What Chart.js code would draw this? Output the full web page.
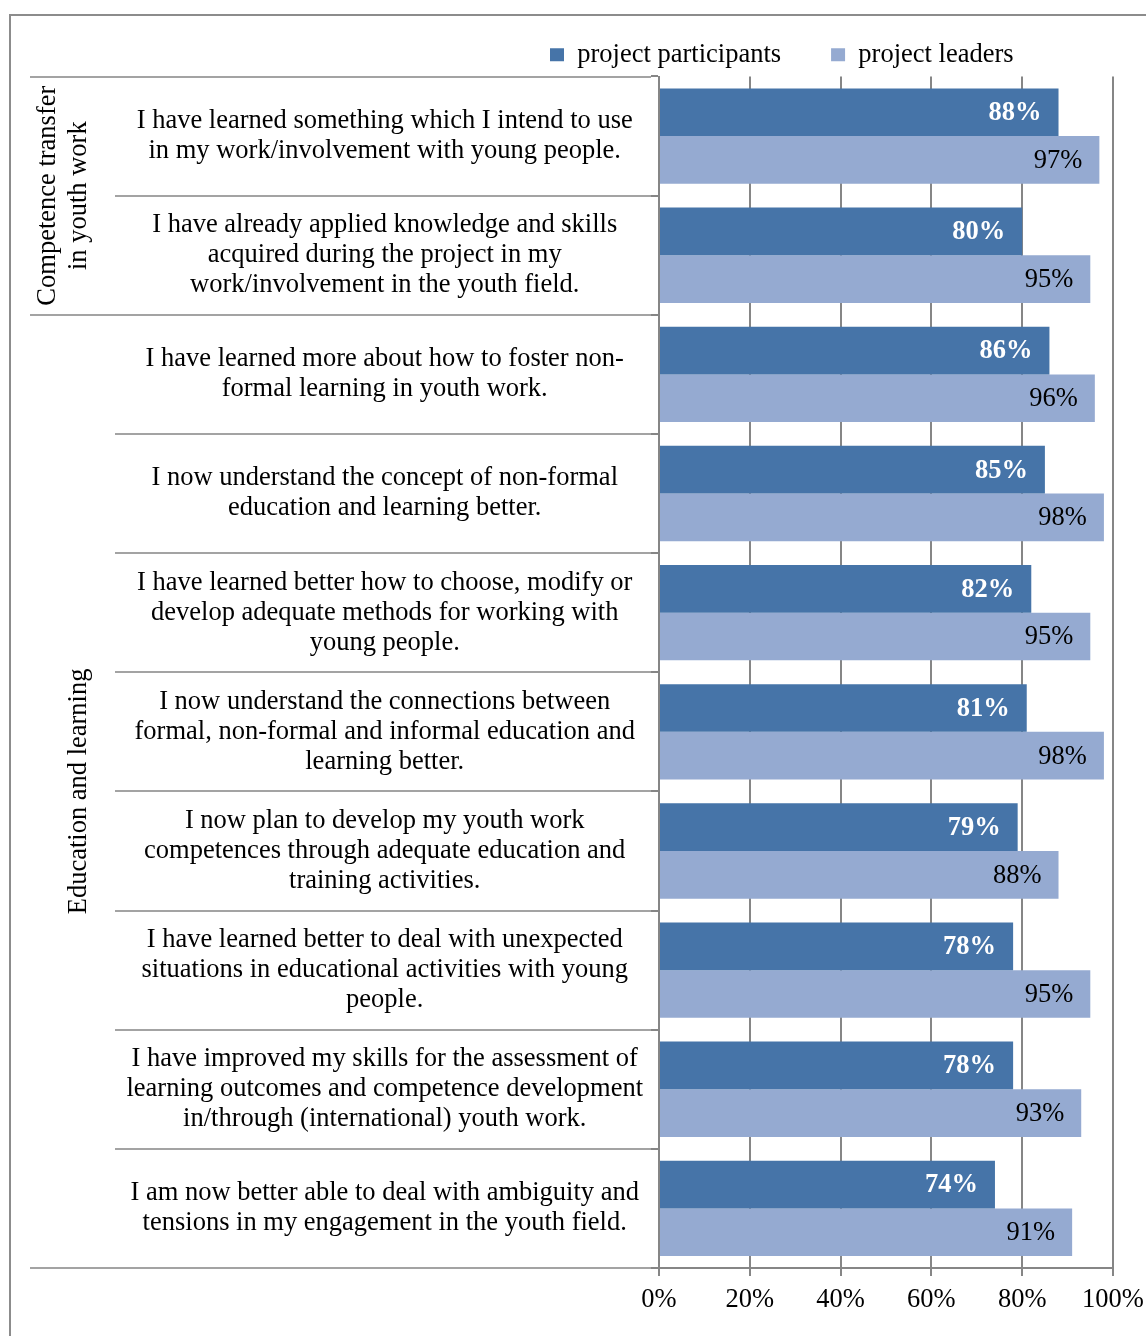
<!DOCTYPE html>
<html>
<head>
<meta charset="utf-8">
<script src="https://cdn.jsdelivr.net/npm/chart.js@4.4.1/dist/chart.umd.min.js"></script>
<style>
  body{margin:0;background:#fff;}
  canvas{display:block;}
</style>
</head>
<body>
<canvas id="chart" width="1146" height="1336"></canvas>
<script>
/* data */

const statements = [
    ["I have learned something which I intend to use", "in my work/involvement with young people."],
    ["I have already applied knowledge and skills", "acquired during the project in my", "work/involvement in the youth field."],
    ["I have learned more about how to foster non-", "formal learning in youth work."],
    ["I now understand the concept of non-formal", "education and learning better."],
    ["I have learned better how to choose, modify or", "develop adequate methods for working with", "young people."],
    ["I now understand the connections between", "formal, non-formal and informal education and", "learning better."],
    ["I now plan to develop my youth work", "competences through adequate education and", "training activities."],
    ["I have learned better to deal with unexpected", "situations in educational activities with young", "people."],
    ["I have improved my skills for the assessment of", "learning outcomes and competence development", "in/through (international) youth work."],
    ["I am now better able to deal with ambiguity and", "tensions in my engagement in the youth field."]
];

const participants = [88, 80, 86, 85, 82, 81, 79, 78, 78, 74];
const leaders = [97, 95, 96, 98, 95, 98, 88, 95, 93, 91];

const groupNames = [["Competence transfer", "in youth work"], ["Education and learning"]];
const groupStart = [0, 2];
const groupEnd = [2, 10];

const xTicks = [0, 20, 40, 60, 80, 100];

const serif = '"Liberation Serif", "Times New Roman", serif';
const fontSize = 26.5;
const gridGray = '#868686';

/* borders, row separators, group labels and value labels */

const decor = {
    id: 'decor',

    afterLayout(chart){
        // move the legend so it sits where the original one does
        chart.legend.left = 550 - 50;
        chart.legend.top += 1.5;
        chart.legend.bottom += 1.5;
    },

    beforeDraw(chart){
        const ctx = chart.ctx;
        ctx.save();
        ctx.strokeStyle = '#8c8c8c';
        ctx.lineWidth = 2;
        ctx.beginPath();
        ctx.moveTo(10, chart.height);
        ctx.lineTo(10, 15);
        ctx.lineTo(chart.width, 15);
        ctx.stroke();
        ctx.restore();
    },

    afterDatasetsDraw(chart){
        const ctx = chart.ctx;
        ctx.save();
        ctx.textAlign = 'right';
        ctx.textBaseline = 'middle';
        chart.data.datasets.forEach((ds, di) => {
            const meta = chart.getDatasetMeta(di);
            ctx.font = (di === 0 ? 'bold ' : '') + fontSize + 'px ' + serif;
            ctx.fillStyle = di === 0 ? '#ffffff' : '#000000';
            meta.data.forEach((bar, i) => {
                ctx.fillText(ds.data[i] + '%', bar.x - 17, bar.y + 1);
            });
        });
        ctx.restore();
    },

    afterDraw(chart){
        const ctx = chart.ctx;
        const y = chart.scales.y;
        const left = chart.chartArea.left;
        const n = statements.length;

        ctx.save();
        ctx.strokeStyle = '#a3a3a3';
        ctx.lineWidth = 2;
        for(let i = 0; i <= n; i++){
            const yy = Math.round(y.getPixelForValue(i - 0.5));
            const isGroupEdge = groupStart.includes(i) || i === n;
            ctx.beginPath();
            ctx.moveTo(isGroupEdge ? 30 : 115, yy);
            ctx.lineTo(left - 8, yy);
            ctx.stroke();
        }

        // group captions, rotated
        ctx.fillStyle = '#000';
        ctx.font = fontSize + 'px ' + serif;
        ctx.textAlign = 'center';
        ctx.textBaseline = 'middle';
        groupNames.forEach((lines, g) => {
            const top = y.getPixelForValue(groupStart[g] - 0.5);
            const bottom = y.getPixelForValue(groupEnd[g] - 0.5);
            ctx.save();
            ctx.translate(79, (top + bottom) / 2);
            ctx.rotate(-Math.PI / 2);
            lines.forEach((line, k) => {
                ctx.fillText(line, 0, -(lines.length - 1 - k) * 31);
            });
            ctx.restore();
        });
        ctx.restore();
    }
};

new Chart(document.getElementById('chart'), {
    type: 'bar',
    data: {
        labels: statements,
        datasets: [
            {
                label: 'project participants',
                data: participants,
                backgroundColor: '#4674A8',
                borderWidth: 0,
                categoryPercentage: 0.8,
                barPercentage: 1.0
            },
            {
                label: 'project leaders',
                data: leaders,
                backgroundColor: '#95AAD1',
                borderWidth: 0,
                categoryPercentage: 0.8,
                barPercentage: 1.0
            }
        ]
    },
    options: {
        indexAxis: 'y',
        responsive: false,
        animation: false,
        layout: {
            padding: {top: -10, right: 33, bottom: 0, left: 0}
        },
        plugins: {
            legend: {
                display: true,
                position: 'top',
                align: 'start',
                labels: {
                    color: '#000',
                    font: {family: serif, size: fontSize},
                    boxWidth: 14,
                    boxHeight: 13,
                    padding: 50
                }
            },
            tooltip: {enabled: false}
        },
        scales: {
            x: {
                min: 0,
                max: 100,
                afterBuildTicks: (scale) => {
                    scale.ticks = xTicks.map(v => ({value: v}));
                },
                afterFit: (scale) => {
                    scale.height = 68;
                    scale.paddingLeft = 0;
                    scale.paddingRight = 0;
                },
                grid: {
                    color: gridGray,
                    lineWidth: 2,
                    drawTicks: true,
                    tickLength: 8
                },
                border: {display: true, color: gridGray, width: 2},
                ticks: {
                    color: '#000',
                    font: {family: serif, size: fontSize},
                    padding: 8,
                    maxRotation: 0,
                    callback: (v) => v + '%'
                }
            },
            y: {
                afterFit: (scale) => {
                    scale.width = 659;
                    scale.paddingTop = 0;
                    scale.paddingBottom = 0;
                },
                grid: {
                    drawOnChartArea: false,
                    drawTicks: true,
                    tickLength: 8,
                    color: gridGray,
                    lineWidth: 2
                },
                border: {display: true, color: gridGray, width: 2},
                ticks: {
                    color: '#000',
                    font: {family: serif, size: fontSize, lineHeight: 30 / fontSize},
                    crossAlign: 'center',
                    padding: 8,
                    autoSkip: false
                }
            }
        }
    },
    plugins: [decor]
});
</script>
</body>
</html>
